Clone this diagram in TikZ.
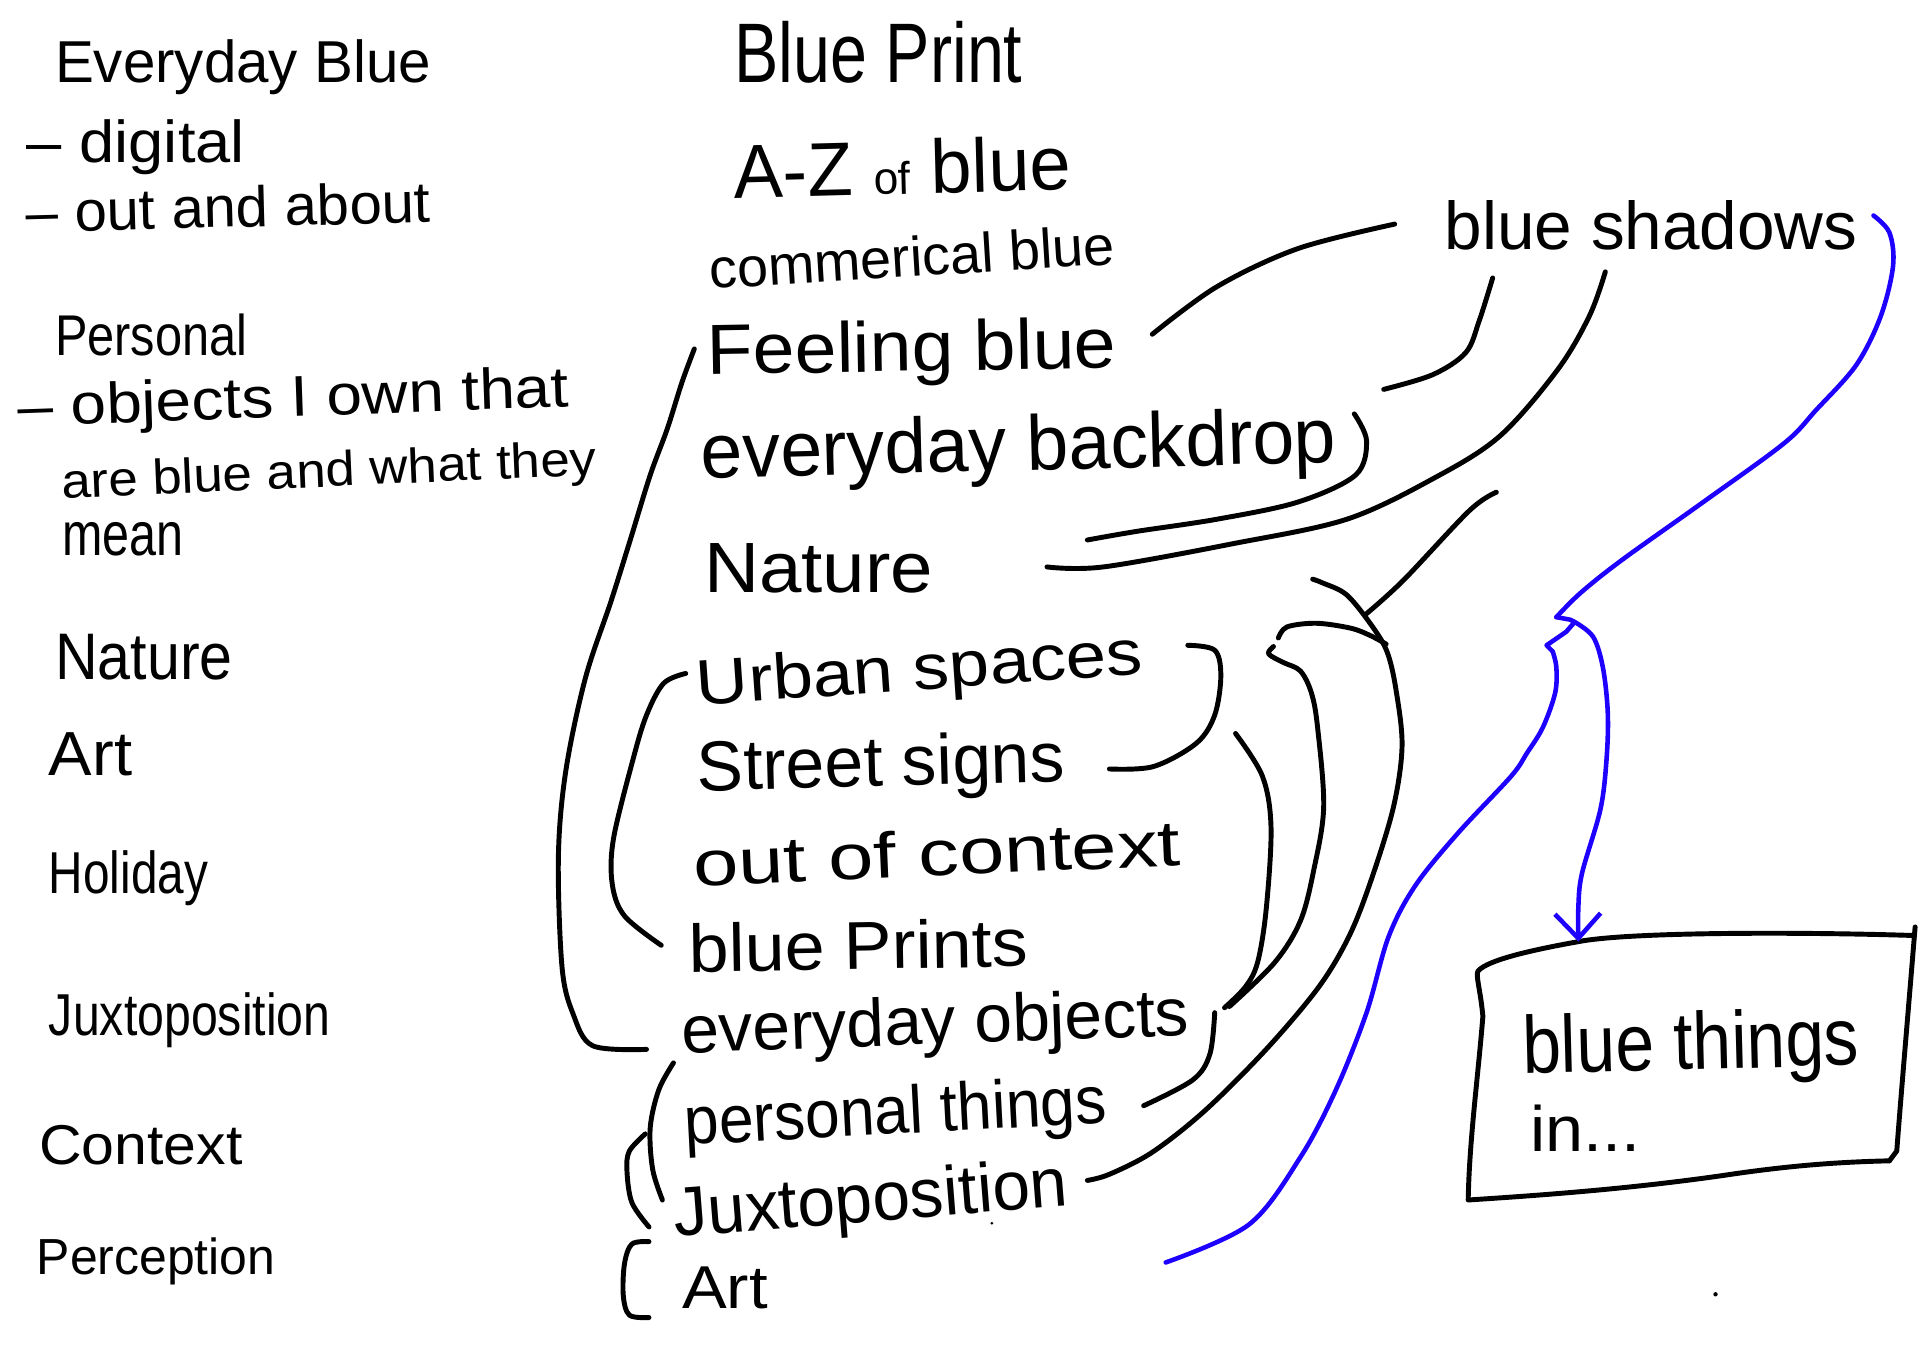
\documentclass[tikz,border=0pt]{standalone}
\usepackage{fontspec}
\setmainfont{Liberation Sans}
\usetikzlibrary{arrows.meta}
\newlength\un
\setlength\un{0.012245cm}
\newcommand\hw[3]{\resizebox{#1\un}{#2\un}{#3}}
\definecolor{bluepen}{RGB}{30,0,255}
\begin{document}
\begin{tikzpicture}[x=0.012245cm,y=-0.012245cm,
  txt/.style={anchor=base west, inner sep=0pt, outer sep=0pt},
  ink/.style={line width=1.4pt, line cap=round, line join=round},
  blueink/.style={ink, draw=bluepen, line width=1.3pt},
  sm/.style={smooth, tension=0.55}]
\useasboundingbox[fill=white] (0,0) rectangle (1568,1108);

% ---------------- left column ----------------
\node[txt] (eb)   at (45,67)   {\hw{307}{35}{Everyday Blue}};
\node[txt] (dig)  at (22,133)  {\hw{178}{35}{– digital}};
\node[txt, rotate=1.5] (oaa) at (22,190) {\hw{330}{34}{– out and about}};
\node[txt] (pers) at (45,290)  {\hw{157}{34}{Personal}};
\node[txt, rotate=2] (objs) at (15,348) {\hw{450}{34}{– objects I own that}};
\node[txt, rotate=2.5] (areb) at (51,407) {\hw{437}{29}{are blue and what they}};
\node[txt] (mean) at (51,454)  {\hw{99}{27}{mean}};
\node[txt] (nat1) at (45,555)  {\hw{145}{37}{Nature}};
\node[txt] (art1) at (40,633)  {\hw{68}{35}{Art}};
\node[txt] (hol)  at (40,730)  {\hw{130}{35}{Holiday}};
\node[txt] (jux1) at (40,846)  {\hw{230}{35}{Juxtoposition}};
\node[txt] (con1) at (32,951)  {\hw{166}{32}{Context}};
\node[txt] (perc) at (30,1041) {\hw{195}{30}{Perception}};

% ---------------- middle column ----------------
\node[txt] (bp)   at (600,67)  {\hw{235}{50}{Blue Print}};
\node[txt, rotate=1.5] (az) at (600,162) {\hw{275}{45}{A-Z \scalebox{0.6}{of} blue}};
\node[txt, rotate=3.5] (com) at (580,236) {\hw{332}{33}{commerical blue}};
\node[txt, rotate=1] (feel) at (578,306) {\hw{334}{42}{Feeling blue}};
\node[txt, rotate=1.5] (ebd) at (573,391) {\hw{519}{46}{everyday backdrop}};
\node[txt] (nat2) at (575,484)  {\hw{187}{40}{Nature}};
\node[txt, rotate=4] (urb) at (570,576) {\hw{365}{38}{Urban spaces}};
\node[txt, rotate=1.5] (street) at (570,646) {\hw{300}{42}{Street signs}};
\node[txt, rotate=2.5] (ooc) at (567,724) {\hw{398}{38}{out of context}};
\node[txt, rotate=1] (bps) at (563,794) {\hw{277}{40}{blue Prints}};
\node[txt, rotate=2] (eo) at (557,860) {\hw{415}{40}{everyday objects}};
\node[txt, rotate=3] (pt) at (560,935) {\hw{345}{40}{personal things}};
\node[txt, rotate=4.5] (jux2) at (552,1010) {\hw{322}{41}{Juxtoposition}};
\node[txt] (art2) at (557,1069) {\hw{70}{34}{Art}};

% ---------------- right ----------------
\node[txt] (bs) at (1180,204) {\hw{337}{40}{blue shadows}};
\node[txt, rotate=1.5] (bt) at (1244,877) {\hw{275}{48}{blue things}};
\node[txt] (bin) at (1250,940) {\hw{90}{38}{in...}};

% box outline
\coordinate (boxtl) at (1207,793);
\coordinate (boxtr) at (1563,764);
\coordinate (boxbr) at (1543,948);
\coordinate (boxbl) at (1199,980);
\coordinate (boxtop) at (1289,769);
\draw[ink] (boxtr) .. controls (1470,761) and (1330,761) .. (boxtop)
  .. controls (1250,776) and (1215,784) .. (boxtl)
  .. controls (1205,797) and (1209,808) .. (1211,830)
  .. controls (1207,880) and (1200,930) .. (boxbl)
  .. controls (1260,976) and (1330,971) .. (1407,960)
  .. controls (1460,952) and (1500,949) .. (boxbr);
\draw[ink] (1564,757) .. controls (1558,830) and (1552,900) .. (1549,940) -- (boxbr);

% stray dots
\fill (1401,1057) circle (1.8);
\fill (810,999) circle (1.2);

% ---------------- black connectors ----------------
\coordinate (a0) at (941,273);
\coordinate (a1) at (1139,183);
\draw[ink] plot[sm] coordinates {(a0) (994,234) (1060,203) (a1)};

\coordinate (b0) at (1219,227);
\coordinate (b1) at (1130,318);
\draw[ink] plot[sm] coordinates {(b0) (1208,262) (1197,288) (1170,306) (b1)};

\coordinate (c0) at (1311,222);
\coordinate (c1) at (855,463);
\draw[ink] plot[sm] coordinates {(c0) (1298,258) (1272,302) (1225,356) (1172,390) (1100,424) (1007,444) (901,463) (c1)};

\coordinate (d0) at (1106,338);
\coordinate (d1) at (888,441);
\draw[ink] plot[sm] coordinates {(d0) (1116,360) (1107,388) (1060,410) (994,424) (928,434) (d1)};

\coordinate (e0) at (1222,402);
\coordinate (e1) at (1115,502);
\draw[ink] plot[sm] coordinates {(e0) (1200,417) (1146,474) (e1)};

\coordinate (i0) at (1072,473);
\coordinate (i1) at (888,964);
\draw[ink] plot[sm] coordinates {(i0) (1080,476) (1100,486) (1121,512) (1133,533) (1140,563) (1145,609) (1138,659) (1120,718) (1102,764) (1077,806) (1034,857) (984,907) (941,941) (906,959) (i1)};

\coordinate (g0) at (1044,521);
\coordinate (g1) at (1132,526);
\draw[ink] plot[sm] coordinates {(g0) (1051,512) (1075,509) (1103,513) (1119,519) (g1)};

\coordinate (g2) at (1040,528);
\coordinate (g3) at (1004,822);
\draw[ink] plot[sm] coordinates {(g2) (1036,534) (1048,541) (1062,548) (1071,566) (1076,594) (1081,659) (1073,710) (1062,752) (1041,786) (g3)};

\coordinate (h0) at (1009,599);
\coordinate (h1) at (1000,823);
\draw[ink] plot[sm] coordinates {(h0) (1031,634) (1038,676) (1034,743) (1027,786) (1017,806) (h1)};

\coordinate (f0) at (970,527);
\coordinate (f1) at (906,628);
\draw[ink] plot[sm] coordinates {(f0) (992,531) (997,552) (992,584) (977,607) (942,626) (f1)};

\coordinate (p0) at (992,827);
\coordinate (p1) at (934,903);
\draw[ink] plot[sm] coordinates {(p0) (988,861) (974,882) (p1)};

\coordinate (j0) at (567,285);
\coordinate (j1) at (528,857);
\draw[ink] plot[sm] coordinates {(j0) (557,312) (545,350) (531,388) (515,440) (499,491) (478,554) (462,630) (456,700) (459,790) (468,828) (484,854) (j1)};

\coordinate (k0) at (560,550);
\coordinate (k1) at (540,772);
\draw[ink] plot[sm] coordinates {(k0) (542,558) (528,584) (517,620) (501,685) (500,722) (510,748) (k1)};

\coordinate (l0) at (550,868);
\coordinate (l1) at (541,980);
\draw[ink] plot[sm] coordinates {(l0) (538,890) (531,921) (533,955) (l1)};

\coordinate (m0) at (527,926);
\coordinate (m1) at (530,1002);
\draw[ink] plot[sm] coordinates {(m0) (514,940) (512,956) (516,982) (m1)};

\coordinate (n0) at (530,1014);
\coordinate (n1) at (530,1076);
\draw[ink] plot[sm] coordinates {(n0) (516,1016) (510,1032) (509,1058) (514,1074) (n1)};

% ---------------- blue connectors ----------------
\coordinate (q0) at (1530,176);
\coordinate (qtip) at (1271,504);
\coordinate (qk) at (1286,508);
\coordinate (q1) at (952,1031);
\draw[blueink] plot[sm] coordinates {(q0) (1543,190) (1546,217) (1536,258) (1516,298) (1483,335) (1457,362) (1391,410) (1325,457) (1291,484) (qtip)};
\draw[blueink] (qtip) -- (1282,506) -- (qk) -- (1279,516) -- (1263,527) -- (1268,532);
\draw[blueink] plot[sm] coordinates {(1268,532) (1271,545) (1270,566) (1260,594) (1247,615) (1234,634) (1191,680) (1156,723) (1134,765) (1116,827) (1091,890) (1062,945) (1020,1000) (q1)};
\draw[blueink, -{Straight Barb[length=7pt, width=13pt]}] plot[sm] coordinates {(qk) (1301,520) (1309,545) (1313,582) (1312,620) (1307,661) (1292,713) (1289,740) (boxtop)};

\end{tikzpicture}
\end{document}
